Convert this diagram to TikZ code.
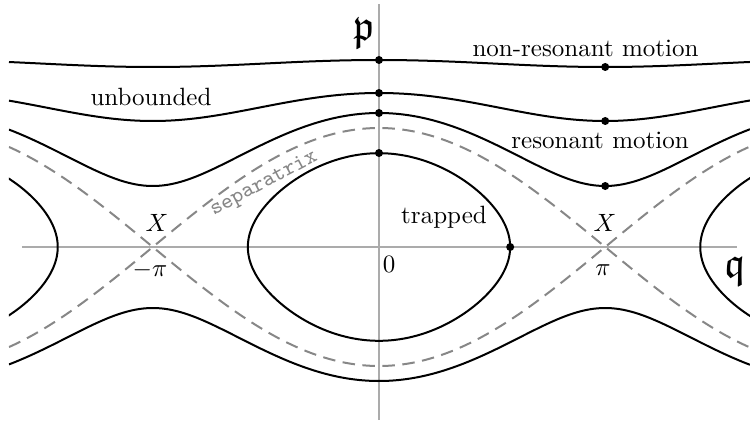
\documentclass[tikz,border=0pt]{standalone}
\usepackage{amssymb}
\begin{document}
\begin{tikzpicture}[x=0.4pt,y=0.4pt,
  axisline/.style={draw=black!33,line width=0.8pt},
  orbit/.style={draw=black,line width=0.8pt},
  sepline/.style={draw=black!47,line width=0.8pt,dash pattern=on 5pt off 3pt},
  dotmark/.style={circle,fill=black,inner sep=0pt,minimum size=3.2pt},
  lbl/.style={inner sep=0pt}]
\useasboundingbox (-379,-173) rectangle (371,247);
% axes
\draw[axisline] (-357,0) -- (358,0);
\draw[axisline] (0,-173) -- (0,243);
\begin{scope}
\clip (-370,-173) rectangle (371,247);
% separatrix
\draw[sepline] plot[domain=-370:371,samples=200,smooth] (\x,{119*cos(deg(\x/144))});
\draw[sepline] plot[domain=-370:371,samples=200,smooth] (\x,{-119*cos(deg(\x/144))});
% rotating orbits
\draw[orbit] plot[domain=-370:371,samples=150,smooth] (\x,{10*sqrt(336.845+12.845*cos(deg(\x/72)))});
\draw[orbit] plot[domain=-370:371,samples=150,smooth] (\x,{10*sqrt(197.96+39.20*cos(deg(\x/72)))});
\draw[orbit] plot[domain=-370:371,samples=200,smooth] (\x,{10*sqrt(108.385+71.175*cos(deg(\x/72)))});
\draw[orbit] plot[domain=-370:371,samples=200,smooth] (\x,{-10*sqrt(108.385+71.175*cos(deg(\x/72)))});
% trapped orbits
\foreach \s in {-452.39,0,452.39}{
  \draw[orbit] plot[domain=0:360,samples=120,smooth cycle] ({\s+2.51327*asin(0.79*sin(\x))},{93.81*cos(\x)});
}
\end{scope}
% dots
\node[dotmark] (d1a) at (0,187) {};
\node[dotmark] (d1b) at (226.2,180) {};
\node[dotmark] (d2a) at (0,154) {};
\node[dotmark] (d2b) at (226.2,126) {};
\node[dotmark] (d3a) at (0,134) {};
\node[dotmark] (d3b) at (226.2,61) {};
\node[dotmark] (d4a) at (0,94) {};
\node[dotmark] (d4b) at (131.2,0) {};
% labels
\node[lbl] (pl) at (-15,214) {\LARGE$\mathfrak{p}$};
\node[lbl] (ql) at (356,-24) {\LARGE$\mathfrak{q}$};
\node[lbl] (nr) at (206.5,199) {non-resonant motion};
\node[lbl] (ub) at (-228,150) {unbounded};
\node[lbl] (rm) at (221,107) {resonant motion};
\node[lbl] (tr) at (65,30) {trapped};
\node[lbl,text=black!47,rotate=28,font=\small\ttfamily] (sx) at (-115,63) {separatrix};
\node[lbl] (xl) at (-222,24) {$X$};
\node[lbl] (xr) at (226,24) {$X$};
\node[lbl] (mpi) at (-229,-23) {$-\pi$};
\node[lbl] (ppi) at (224,-23) {$\pi$};
\node[lbl] (zero) at (10,-17) {$0$};
\end{tikzpicture}
\end{document}
